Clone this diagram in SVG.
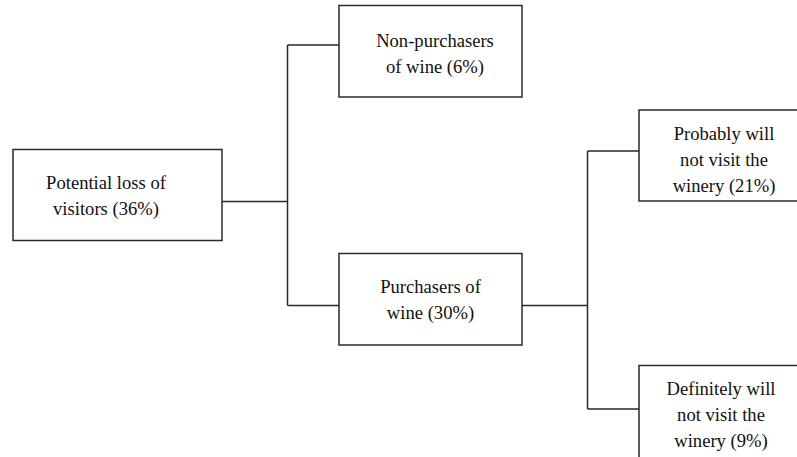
<svg xmlns="http://www.w3.org/2000/svg" width="797" height="457" viewBox="0 0 797 457">
<style>
.box{fill:#fff;stroke:#2a2a2a;stroke-width:1.5}
.ln{fill:none;stroke:#2a2a2a;stroke-width:1.5}
text{font-family:"Liberation Serif","Times New Roman",serif;font-size:18.6px;fill:#111;text-anchor:middle}
</style>
<rect width="797" height="457" fill="#fff"/>
<g id="connectors">
<path class="ln" d="M222,201.5 H287.5 M287.5,45 V305.5 M287.5,45 H339 M287.5,305.5 H339"/>
<path class="ln" d="M522,305.5 H587.5 M587.5,151 V409 M587.5,151 H639 M587.5,409 H639"/>
</g>
<g id="n_loss">
<rect class="box" x="13" y="149.5" width="209" height="91"/>
<text x="106" y="189">Potential loss of</text>
<text x="106" y="215">visitors (36%)</text>
</g>
<g id="n_nonpurch">
<rect class="box" x="339" y="5.5" width="183" height="91.5"/>
<text x="435" y="47">Non-purchasers</text>
<text x="435" y="73">of wine (6%)</text>
</g>
<g id="n_purch">
<rect class="box" x="339" y="253.5" width="183" height="91.5"/>
<text x="430.5" y="293">Purchasers of</text>
<text x="430.5" y="319">wine (30%)</text>
</g>
<g id="n_probably">
<rect class="box" x="639" y="110" width="170" height="91"/>
<text x="724" y="140">Probably will</text>
<text x="724" y="166">not visit the</text>
<text x="724" y="192">winery (21%)</text>
</g>
<g id="n_definitely">
<rect class="box" x="639" y="365.5" width="170" height="100"/>
<text x="721" y="395">Definitely will</text>
<text x="721" y="421">not visit the</text>
<text x="721" y="447">winery (9%)</text>
</g>
</svg>
